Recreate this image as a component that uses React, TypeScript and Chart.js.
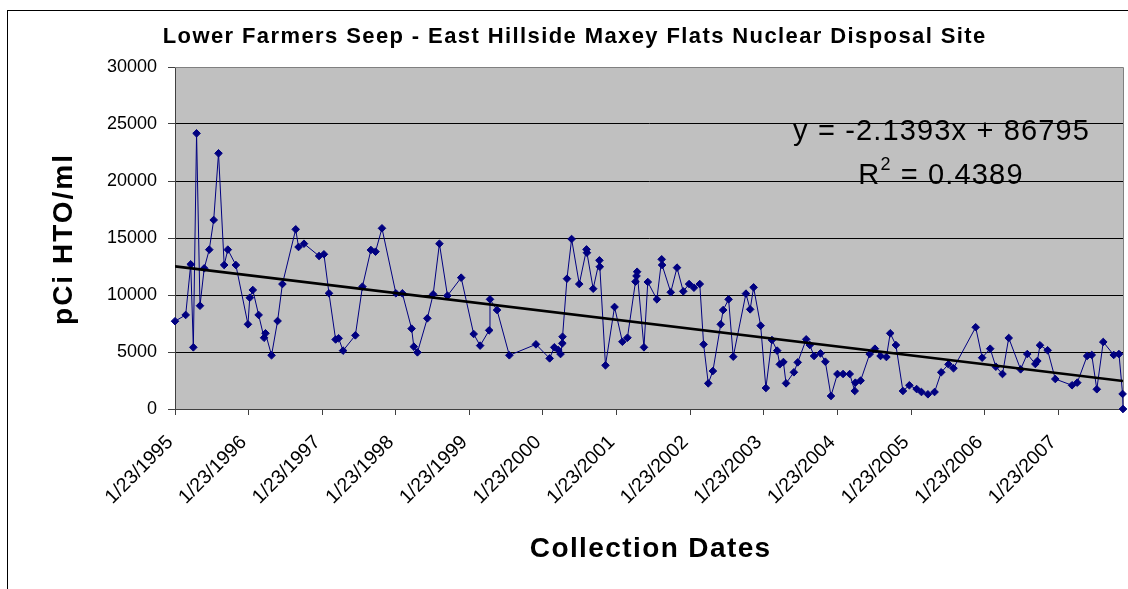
import React, { useEffect, useRef } from 'react';
import { Chart, registerables } from 'chart.js';

Chart.register(...registerables);

const CHART_TITLE = 'Lower Farmers Seep - East Hillside Maxey Flats Nuclear Disposal Site';
const X_TITLE = 'Collection Dates';
const Y_TITLE = 'pCi HTO/ml';

const collectionDates = [
  '1/23/1995', '3/17/1995', '4/11/1995', '4/24/1995', '5/10/1995', '5/27/1995', '6/17/1995', '7/12/1995',
  '8/3/1995', '8/27/1995', '9/24/1995', '10/12/1995', '11/21/1995', '1/20/1996', '1/29/1996', '2/13/1996',
  '3/13/1996', '4/9/1996', '4/16/1996', '5/16/1996', '6/15/1996', '7/9/1996', '9/13/1996', '9/27/1996',
  '10/24/1996', '1/7/1997', '1/31/1997', '2/25/1997', '3/30/1997', '4/14/1997', '5/6/1997', '7/6/1997',
  '8/10/1997', '9/21/1997', '10/14/1997', '11/15/1997', '1/23/1998', '2/24/1998', '4/11/1998', '4/22/1998',
  '5/10/1998', '6/28/1998', '7/27/1998', '8/27/1998', '10/6/1998', '12/13/1998', '2/13/1999', '3/17/1999',
  '5/1/1999', '5/5/1999', '6/9/1999', '8/9/1999', '12/19/1999', '2/25/2000', '3/19/2000', '4/8/2000',
  '4/19/2000', '4/28/2000', '4/29/2000', '5/21/2000', '6/13/2000', '7/21/2000', '8/26/2000', '8/28/2000',
  '9/28/2000', '10/29/2000', '10/31/2000', '11/28/2000', '1/12/2001', '2/20/2001', '3/17/2001', '4/26/2001',
  '5/1/2001', '5/4/2001', '6/7/2001', '6/26/2001', '8/10/2001', '9/3/2001', '9/5/2001', '10/18/2001',
  '11/18/2001', '12/19/2001', '1/17/2002', '2/10/2002', '3/11/2002', '3/30/2002', '4/22/2002', '5/15/2002',
  '6/23/2002', '7/5/2002', '8/1/2002', '8/24/2002', '10/26/2002', '11/16/2002', '12/3/2002', '1/7/2003',
  '2/2/2003', '3/4/2003', '3/30/2003', '4/12/2003', '4/30/2003', '5/13/2003', '6/21/2003', '7/10/2003',
  '8/21/2003', '9/8/2003', '9/29/2003', '10/31/2003', '11/24/2003', '12/22/2003', '1/23/2004', '2/20/2004',
  '3/24/2004', '4/18/2004', '4/21/2004', '5/17/2004', '7/1/2004', '7/27/2004', '8/24/2004', '9/22/2004',
  '10/11/2004', '11/8/2004', '12/13/2004', '1/14/2005', '2/19/2005', '3/15/2005', '4/16/2005', '5/19/2005',
  '6/21/2005', '7/27/2005', '8/21/2005', '12/9/2005', '1/10/2006', '2/19/2006', '3/19/2006', '4/21/2006',
  '5/22/2006', '7/20/2006', '8/22/2006', '10/1/2006', '10/11/2006', '10/24/2006', '12/1/2006', '1/8/2007',
  '4/1/2007', '4/27/2007', '6/15/2007', '7/8/2007', '8/2/2007', '9/3/2007', '10/25/2007', '11/20/2007',
  '12/8/2007', '12/10/2007',
];

const htoValues = [
  7700, 8250, 12690, 5410, 24180, 9060, 12340, 13980,
  16580, 22430, 12630, 13980, 12630, 7430, 9760, 10440,
  8250, 6250, 6640, 4710, 7720, 10960, 15760, 14210,
  14500, 13420, 13570, 10150, 6100, 6200, 5120, 6460,
  10730, 13950, 13800, 15850, 10150, 10150, 7050, 5470,
  4970, 7950, 10060, 14500, 9940, 11520, 6580, 5560,
  6900, 9620, 8680, 4710, 5670, 4440, 5410, 5180,
  4820, 5760, 6340, 11430, 14910, 10960, 14000, 13710,
  10550, 13040, 12480, 3830, 8950, 5900, 6250, 11170,
  11670, 12040, 5410, 11140, 9620, 13130, 12630, 10240,
  12400, 10320, 10960, 10640, 10960, 5670, 2250, 3330,
  7430, 8680, 9620, 4590, 10120, 8740, 10670, 7310,
  1840, 6050, 5120, 3920, 4120, 2250, 3220, 4090,
  6110, 5610, 4650, 4880, 4150, 1140, 3070, 3070,
  3070, 1580, 2310, 2490, 4820, 5290, 4650, 4560,
  6640, 5610, 1580, 2080, 1750, 1490, 1290, 1490,
  3220, 3920, 3570, 7170, 4500, 5290, 3710, 3070,
  6230, 3480, 4820, 3950, 4210, 5590, 5150, 2630,
  2080, 2310, 4650, 4740, 1730, 5880, 4740, 4820,
  1320, 0,
];

const tickYears = [1995, 1996, 1997, 1998, 1999, 2000, 2001, 2002, 2003, 2004, 2005, 2006, 2007];
const TICK_MONTH_DAY = '1/23';
const yTickValues = [0, 5000, 10000, 15000, 20000, 25000, 30000];

const trendSlope = -2.1393;
const trendIntercept = 86795;
const trendEquation = 'y = -2.1393x + 86795';
const rSquaredText = '0.4389';

const FONT = "'Liberation Sans', Arial, Helvetica, sans-serif";

function toSerial(s: string): number {
  const [m, d, y] = s.split('/').map(Number);
  return Math.round((Date.UTC(y, m - 1, d) - Date.UTC(1899, 11, 30)) / 86400000);
}
function fromSerial(n: number): string {
  const dt = new Date(Date.UTC(1899, 11, 30) + Math.round(n) * 86400000);
  return `${dt.getUTCMonth() + 1}/${dt.getUTCDate()}/${dt.getUTCFullYear()}`;
}

function spacedText(ctx: any, text: string, x: number, y: number, spacing: number) {
  // draws text centred at x with extra letter spacing
  ctx.save();
  try {
    ctx.letterSpacing = `${spacing}px`;
  } catch (e) {
    /* ignore */
  }
  const w = ctx.measureText(text).width;
  ctx.textAlign = 'left';
  ctx.fillText(text, x - (w - spacing) / 2, y);
  ctx.restore();
}

export default function App() {
  const ref = useRef<HTMLCanvasElement | null>(null);

  useEffect(() => {
    const canvas = ref.current;
    if (!canvas) return;
    const xs = collectionDates.map(toSerial);
    const points = xs.map((x, i) => ({ x, y: htoValues[i] }));
    const xMin = xs[0];
    const xMax = xs[xs.length - 1];
    const xTickValues = tickYears.map((y) => toSerial(`${TICK_MONTH_DAY}/${y}`));

    const decor = {
      id: 'decor',
      beforeDraw(chart: any) {
        const { ctx, chartArea: a } = chart;
        ctx.save();
        ctx.fillStyle = '#ffffff';
        ctx.fillRect(0, 0, chart.width, chart.height);
        ctx.strokeStyle = '#000000';
        ctx.lineWidth = 1;
        ctx.strokeRect(7.5, 10.5, 1134, 800);
        ctx.fillStyle = '#c0c0c0';
        ctx.fillRect(a.left, a.top, a.right - a.left, a.bottom - a.top);
        ctx.restore();
      },
      beforeDatasetsDraw(chart: any) {
        const { ctx, chartArea: a } = chart;
        ctx.save();
        ctx.strokeStyle = '#808080';
        ctx.lineWidth = 1;
        ctx.beginPath();
        ctx.moveTo(a.left, a.top + 0.5);
        ctx.lineTo(a.right + 0.5, a.top + 0.5);
        ctx.lineTo(a.right + 0.5, a.bottom);
        ctx.stroke();
        ctx.restore();
      },
      afterDraw(chart: any) {
        const { ctx } = chart;
        ctx.save();
        ctx.fillStyle = '#000000';
        ctx.textBaseline = 'alphabetic';
        // title
        ctx.font = `bold 22px ${FONT}`;
        spacedText(ctx, CHART_TITLE, 574, 43, 1.4);
        // x title
        ctx.font = `bold 28px ${FONT}`;
        spacedText(ctx, X_TITLE, 650, 557, 1.4);
        // y title
        ctx.save();
        ctx.translate(72, 240);
        ctx.rotate(-Math.PI / 2);
        ctx.font = `bold 28px ${FONT}`;
        spacedText(ctx, Y_TITLE, 0, 0, 2.0);
        ctx.restore();
        // equation
        ctx.font = `29px ${FONT}`;
        spacedText(ctx, trendEquation, 941, 140, 1.15);
        const part1 = 'R';
        const part3 = ' = ' + rSquaredText;
        ctx.save();
        try {
          ctx.letterSpacing = '1.15px';
        } catch (e) {
          /* ignore */
        }
        ctx.font = `29px ${FONT}`;
        const w1 = ctx.measureText(part1).width;
        const w3 = ctx.measureText(part3).width;
        ctx.font = `18px ${FONT}`;
        const w2 = ctx.measureText('2').width;
        const total = w1 + w2 + w3;
        const x0 = 941 - total / 2;
        ctx.textAlign = 'left';
        ctx.font = `29px ${FONT}`;
        ctx.fillText(part1, x0, 184);
        ctx.font = `18px ${FONT}`;
        ctx.fillText('2', x0 + w1, 170);
        ctx.font = `29px ${FONT}`;
        ctx.fillText(part3, x0 + w1 + w2, 184);
        ctx.restore();
        ctx.restore();
      },
    };

    const chart = new Chart(canvas, {
      type: 'line',
      data: {
        datasets: [
          {
            label: 'Linear trend',
            data: [
              { x: xMin, y: trendSlope * xMin + trendIntercept },
              { x: xMax, y: trendSlope * xMax + trendIntercept },
            ],
            borderColor: '#000000',
            borderWidth: 2.6,
            pointRadius: 0,
            order: 0,
          },
          {
            label: 'HTO',
            data: points,
            borderColor: '#000080',
            borderWidth: 1,
            pointStyle: 'rectRot',
            pointRadius: 3.8,
            pointBackgroundColor: '#000080',
            pointBorderColor: '#000080',
            pointBorderWidth: 1,
            order: 1,
            clip: 10,
          },
        ],
      } as any,
      options: {
        responsive: false,
        animation: false,
        layout: { padding: { left: 0, top: 67, right: 3, bottom: 0 } },
        plugins: {
          legend: { display: false },
          tooltip: { enabled: false },
          title: { display: false },
        },
        scales: {
          x: {
            type: 'linear',
            min: xMin,
            max: xMax,
            bounds: 'data',
            afterBuildTicks: (s: any) => {
              s.ticks = xTickValues.map((v) => ({ value: v }));
            },
            afterFit: (s: any) => {
              s.height = 180;
            },
            ticks: {
              autoSkip: false,
              maxRotation: 45,
              minRotation: 45,
              color: '#000000',
              padding: 16,
              labelOffset: -5,
              font: { family: FONT, size: 19.5 },
              callback: (v: any) => fromSerial(Number(v)),
            },
            grid: { drawOnChartArea: false, drawTicks: true, tickLength: 6, tickColor: '#404040' },
            border: { color: '#404040', width: 1 },
          },
          y: {
            min: 0,
            max: 30000,
            afterBuildTicks: (s: any) => {
              s.ticks = yTickValues.map((v) => ({ value: v }));
            },
            afterFit: (s: any) => {
              s.width = 175;
            },
            ticks: {
              color: '#000000',
              padding: 11,
              font: { family: FONT, size: 18 },
              callback: (v: any) => String(v),
            },
            grid: {
              color: (c: any) => (c.tick && c.tick.value === 30000 ? '#808080' : '#000000'),
              lineWidth: 1,
              tickLength: 7,
              tickColor: '#404040',
            },
            border: { color: '#404040', width: 1 },
          },
        },
      } as any,
      plugins: [decor],
    });
    return () => chart.destroy();
  }, []);

  return (
    <div style={{ position: 'fixed', left: 0, top: 0, width: 1128, height: 589, background: '#fff' }}>
      <canvas ref={ref} width={1128} height={589} style={{ display: 'block' }} />
    </div>
  );
}
